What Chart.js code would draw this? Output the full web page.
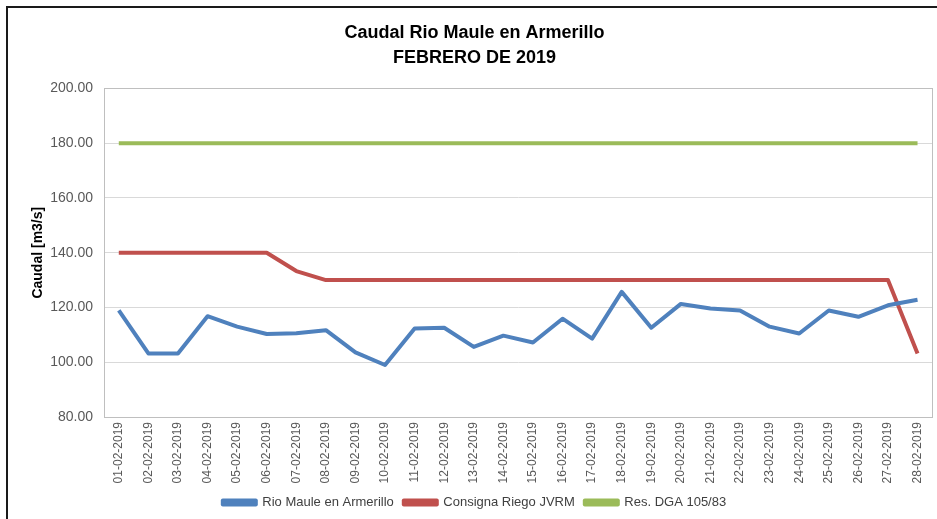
<!DOCTYPE html>
<html>
<head>
<meta charset="utf-8">
<script src="https://cdn.jsdelivr.net/npm/chart.js@4/dist/chart.umd.min.js"></script>
<style>
  html, body { margin: 0; padding: 0; width: 937px; height: 519px; overflow: hidden; background: #fff; }
  #wrap { position: absolute; left: 0; top: 0; width: 937px; height: 519px; }
  #frame { position: absolute; left: 6px; top: 6px; width: 960px; height: 540px; border: 2px solid #1a1a1a; box-sizing: border-box; pointer-events: none; }
</style>
</head>
<body>
<div id="wrap"><canvas id="c" width="937" height="519"></canvas></div>
<div id="frame"></div>
<script>
const categories = ["01-02-2019","02-02-2019","03-02-2019","04-02-2019","05-02-2019","06-02-2019","07-02-2019",
  "08-02-2019","09-02-2019","10-02-2019","11-02-2019","12-02-2019","13-02-2019","14-02-2019",
  "15-02-2019","16-02-2019","17-02-2019","18-02-2019","19-02-2019","20-02-2019","21-02-2019",
  "22-02-2019","23-02-2019","24-02-2019","25-02-2019","26-02-2019","27-02-2019","28-02-2019"];
const rioMaule = [118.9, 103.2, 103.2, 116.8, 113.0, 110.3, 110.6, 111.7, 103.6, 99.0, 112.3, 112.6, 105.6, 109.7,
  107.2, 115.9, 108.6, 125.7, 112.6, 121.3, 119.6, 118.9, 113.0, 110.5, 118.9, 116.6, 120.8, 122.8];
const consignaRiego = [140, 140, 140, 140, 140, 140, 133.3, 130, 130, 130, 130, 130, 130, 130,
  130, 130, 130, 130, 130, 130, 130, 130, 130, 130, 130, 130, 130, 103.2];
const resDGA = [180, 180, 180, 180, 180, 180, 180, 180, 180, 180, 180, 180, 180, 180,
  180, 180, 180, 180, 180, 180, 180, 180, 180, 180, 180, 180, 180, 180];
const seriesNames = ["Rio Maule en Armerillo", "Consigna Riego JVRM", "Res. DGA 105/83"];
const titleLines = ["Caudal Rio Maule en Armerillo", "FEBRERO DE 2019"];
const yAxisTitle = "Caudal [m3/s]";

const FONT = "'Liberation Sans', Arial, sans-serif";

const plotBorder = {
  id: 'plotBorder',
  afterDraw(chart) {
    const a = chart.chartArea, ctx = chart.ctx;
    ctx.save();
    ctx.strokeStyle = '#bfbfbf';
    ctx.lineWidth = 1;
    ctx.strokeRect(Math.round(a.left) + 0.5, Math.round(a.top) + 0.5, Math.round(a.right - a.left), Math.round(a.bottom - a.top));
    ctx.restore();
  }
};

function ds(label, data, color) {
  return { label, data, borderColor: color, backgroundColor: color, borderWidth: 4,
    pointRadius: 0, pointHoverRadius: 0, tension: 0, fill: false, borderCapStyle: 'butt', borderJoinStyle: 'round' };
}

new Chart(document.getElementById('c'), {
  type: 'line',
  data: {
    labels: categories,
    datasets: [
      ds(seriesNames[0], rioMaule, '#4F81BD'),
      ds(seriesNames[1], consignaRiego, '#C0504D'),
      ds(seriesNames[2], resDGA, '#9BBB59')
    ]
  },
  options: {
    responsive: false,
    animation: false,
    layout: { padding: { left: 16, right: 4, top: 0, bottom: 0 } },
    plugins: {
      title: {
        display: true,
        text: titleLines,
        color: '#000',
        font: { family: FONT, size: 18, weight: 'bold', lineHeight: 1.4 },
        padding: { top: 20, bottom: 18 }
      },
      legend: {
        position: 'bottom',
        labels: {
          boxWidth: 33, boxHeight: 4, padding: 10,
          color: '#404040',
          font: { family: FONT, size: 13 }
        }
      },
      tooltip: { enabled: false }
    },
    scales: {
      x: {
        offset: true,
        grid: { display: false, drawTicks: false },
        border: { display: true, color: '#bfbfbf' },
        ticks: { minRotation: 90, maxRotation: 90, autoSkip: false, padding: 5,
          color: '#595959', font: { family: FONT, size: 12 } },
        afterFit(s) { s.height = 69; }
      },
      y: {
        min: 80, max: 200,
        ticks: { stepSize: 20, padding: 11, color: '#595959',
          font: { family: FONT, size: 14 },
          callback: v => Number(v).toFixed(2) },
        grid: { color: '#d9d9d9', drawTicks: false },
        border: { display: true, color: '#bfbfbf' },
        title: { display: true, text: yAxisTitle, color: '#000',
          font: { family: FONT, size: 14, weight: 'bold' }, padding: { top: 14, bottom: 0 } },
        afterFit(s) { s.width = 88; }
      }
    }
  },
  plugins: [plotBorder]
});
</script>
</body>
</html>
